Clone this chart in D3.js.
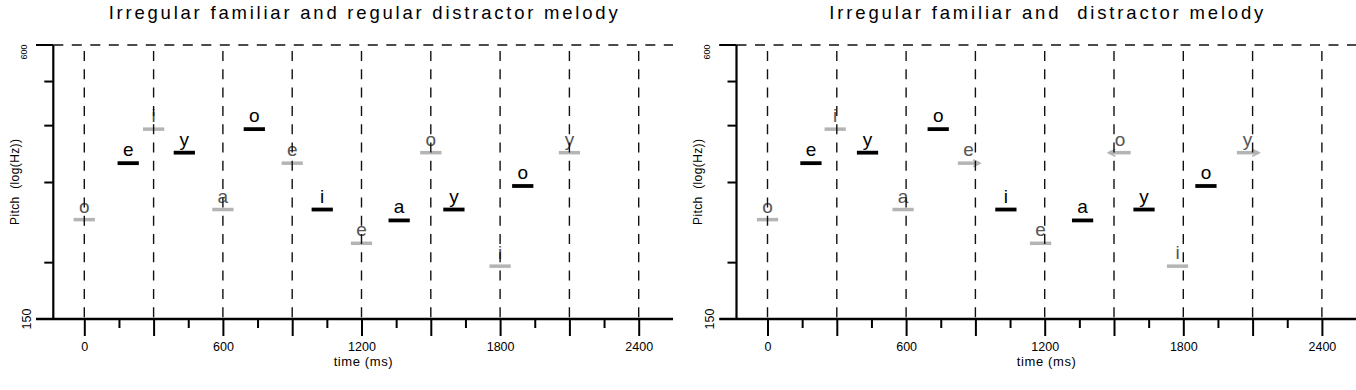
<!DOCTYPE html>
<html>
<head>
<meta charset="utf-8">
<script src="https://cdn.jsdelivr.net/npm/d3@7"></script>
<style>
  body { margin: 0; background: #fff; }
  text { font-family: "Liberation Sans", Arial, sans-serif; fill: #000; }
</style>
</head>
<body>
<svg width="1356" height="390"></svg>
<script>
const titles = [
  'Irregular familiar and regular distractor melody',
  'Irregular familiar and  distractor melody'
]
const titleWidths = [509, 434]

// familiar melody (grey)
const famVowels = ['o', 'i', 'a', 'e', 'e', 'o', 'i', 'y']
const famPitch = [248, 392, 261, 330, 220, 348, 196, 348]
const famOnsetsLeft = [0, 300, 600, 900, 1200, 1500, 1800, 2100]
const famOnsetsRight = [0, 293, 587, 870, 1182, 1526, 1775, 2078]
const famArrowsLeft = [0, 0, 0, 0, 0, 0, 0, 0]
const famArrowsRight = [0, 0, 0, 1, 0, -1, 0, 1]

// distractor melody (black)
const distVowels = ['e', 'y', 'o', 'i', 'a', 'y', 'o']
const distPitch = [330, 348, 392, 261, 247, 261, 294]
const distOnsetsLeft = [190, 433, 736, 1030, 1363, 1600, 1898]
const distOnsetsRight = [188, 433, 739, 1032, 1364, 1630, 1898]

const noteDur = 92
const beatTimes = [0, 300, 600, 900, 1200, 1500, 1800, 2100, 2400]
const minorTimes = [150, 450, 750, 1050, 1350, 1650, 1950, 2250]
const labelTimes = [0, 600, 1200, 1800, 2400]
const pitchDomain = [150, 600]
const pitchMinor = [200, 300, 400, 500]

const svg = d3.select('svg')

const yScale = d3.scaleLog().domain(pitchDomain).range([319, 45])
const yTop = yScale(600)
const yBottom = yScale(150)

function drawPanel (ox, title, titleW, famOnsets, famArrows, distOnsets) {
  const g = svg.append('g').attr('transform', `translate(${ox},0)`)
  const xScale = d3.scaleLinear().domain([0, 2400]).range([84.3, 638.7])
  const axisX = 53.3
  const axisStart = 36
  const axisEnd = 673
  const mid = (axisX + axisEnd) / 2

  g.append('text')
    .attr('x', mid)
    .attr('y', 19)
    .attr('text-anchor', 'middle')
    .attr('textLength', titleW)
    .attr('lengthAdjust', 'spacing')
    .style('white-space', 'pre')
    .style('font-size', '18.5px')
    .text(title)

  const fam = famVowels.map((v, i) => ({ v, t: famOnsets[i], p: famPitch[i], arrow: famArrows[i] }))
  const dist = distVowels.map((v, i) => ({ v, t: distOnsets[i], p: distPitch[i] }))
  const halfW = (xScale(noteDur) - xScale(0)) / 2

  // grey familiar notes
  g.selectAll('line.fam').data(fam).enter().append('line')
    .attr('class', 'fam')
    .attr('x1', d => xScale(d.t) - halfW)
    .attr('x2', d => xScale(d.t) + halfW)
    .attr('y1', d => yScale(d.p))
    .attr('y2', d => yScale(d.p))
    .attr('stroke', '#b4b4b4')
    .attr('stroke-width', 3.5)

  g.selectAll('path.arrow').data(fam.filter(d => d.arrow !== 0)).enter().append('path')
    .attr('class', 'arrow')
    .attr('d', d => {
      const x = xScale(d.t) + d.arrow * halfW
      const y = yScale(d.p)
      return `M${x - d.arrow * 6},${y - 3.5}L${x + d.arrow * 1},${y}L${x - d.arrow * 6},${y + 3.5}`
    })
    .attr('fill', 'none')
    .attr('stroke', '#b4b4b4')
    .attr('stroke-width', 1.6)

  g.selectAll('text.famlab').data(fam).enter().append('text')
    .attr('class', 'famlab')
    .attr('x', d => xScale(d.t))
    .attr('y', d => yScale(d.p) - 7)
    .attr('text-anchor', 'middle')
    .style('font-size', '19px')
    .style('fill', '#555')
    .text(d => d.v)

  // dashed beat lines
  g.selectAll('line.beat').data(beatTimes).enter().append('line')
    .attr('class', 'beat')
    .attr('x1', d => xScale(d))
    .attr('x2', d => xScale(d))
    .attr('y1', yTop + 6)
    .attr('y2', yBottom)
    .attr('stroke', '#111')
    .attr('stroke-width', 1.4)
    .attr('stroke-dasharray', '10,8.3')

  g.append('line')
    .attr('x1', axisX)
    .attr('x2', axisEnd)
    .attr('y1', yTop)
    .attr('y2', yTop)
    .attr('stroke', '#111')
    .attr('stroke-width', 1.4)
    .attr('stroke-dasharray', '10,8.5')

  // black distractor notes
  g.selectAll('line.dist').data(dist).enter().append('line')
    .attr('class', 'dist')
    .attr('x1', d => xScale(d.t) - halfW)
    .attr('x2', d => xScale(d.t) + halfW)
    .attr('y1', d => yScale(d.p))
    .attr('y2', d => yScale(d.p))
    .attr('stroke', '#000')
    .attr('stroke-width', 3.8)

  g.selectAll('text.distlab').data(dist).enter().append('text')
    .attr('class', 'distlab')
    .attr('x', d => xScale(d.t))
    .attr('y', d => yScale(d.p) - 7)
    .attr('text-anchor', 'middle')
    .style('font-size', '19px')
    .text(d => d.v)

  // x axis
  const xMajor = d3.axisBottom(xScale).tickValues(beatTimes).tickSize(17).tickPadding(6)
    .tickFormat(d => labelTimes.includes(d) ? d : '')
  const xMinor = d3.axisBottom(xScale).tickValues(minorTimes).tickSize(9).tickFormat('')

  const gx = g.append('g').attr('transform', `translate(0,${yBottom})`).call(xMajor)
  g.append('g').attr('transform', `translate(0,${yBottom})`).call(xMinor)
    .call(a => a.select('.domain').remove())
    .selectAll('line').attr('stroke-width', 2)
  gx.select('.domain').remove()
  gx.selectAll('line').attr('stroke-width', 2)
  gx.selectAll('text').style('font-size', '12.5px').attr('font-family', null)

  g.append('line')
    .attr('x1', axisStart).attr('x2', axisEnd)
    .attr('y1', yBottom).attr('y2', yBottom)
    .attr('stroke', '#000').attr('stroke-width', 2.4)

  g.append('text')
    .attr('x', mid)
    .attr('y', 366)
    .attr('text-anchor', 'middle')
    .attr('textLength', 59)
    .style('font-size', '13px')
    .text('time (ms)')

  // y axis
  const gy = g.append('g').attr('transform', `translate(${axisX},0)`)
  gy.call(d3.axisLeft(yScale).tickValues(pitchMinor).tickSize(9).tickFormat(''))
  gy.select('.domain').remove()
  gy.selectAll('line').attr('stroke-width', 2)
  gy.append('line')
    .attr('x1', axisStart - axisX).attr('x2', 0)
    .attr('y1', yTop).attr('y2', yTop)
    .attr('stroke', '#000').attr('stroke-width', 2)
  gy.append('line')
    .attr('x1', 0).attr('x2', 0)
    .attr('y1', yTop).attr('y2', yBottom)
    .attr('stroke', '#000').attr('stroke-width', 2.2)

  g.append('text')
    .attr('transform', `translate(27,${yTop + 7}) rotate(-90)`)
    .attr('text-anchor', 'middle')
    .style('font-size', '9px')
    .text(pitchDomain[1])

  g.append('text')
    .attr('transform', `translate(30.7,${yBottom}) rotate(-90)`)
    .attr('text-anchor', 'middle')
    .style('font-size', '12.5px')
    .text(pitchDomain[0])

  g.append('text')
    .attr('transform', `translate(19,${(yTop + yBottom) / 2}) rotate(-90)`)
    .attr('text-anchor', 'middle')
    .attr('textLength', 86)
    .style('font-size', '12px')
    .style('white-space', 'pre')
    .text('Pitch  (log(Hz))')
}

drawPanel(0, titles[0], titleWidths[0], famOnsetsLeft, famArrowsLeft, distOnsetsLeft)
drawPanel(683.2, titles[1], titleWidths[1], famOnsetsRight, famArrowsRight, distOnsetsRight)
</script>
</body>
</html>
